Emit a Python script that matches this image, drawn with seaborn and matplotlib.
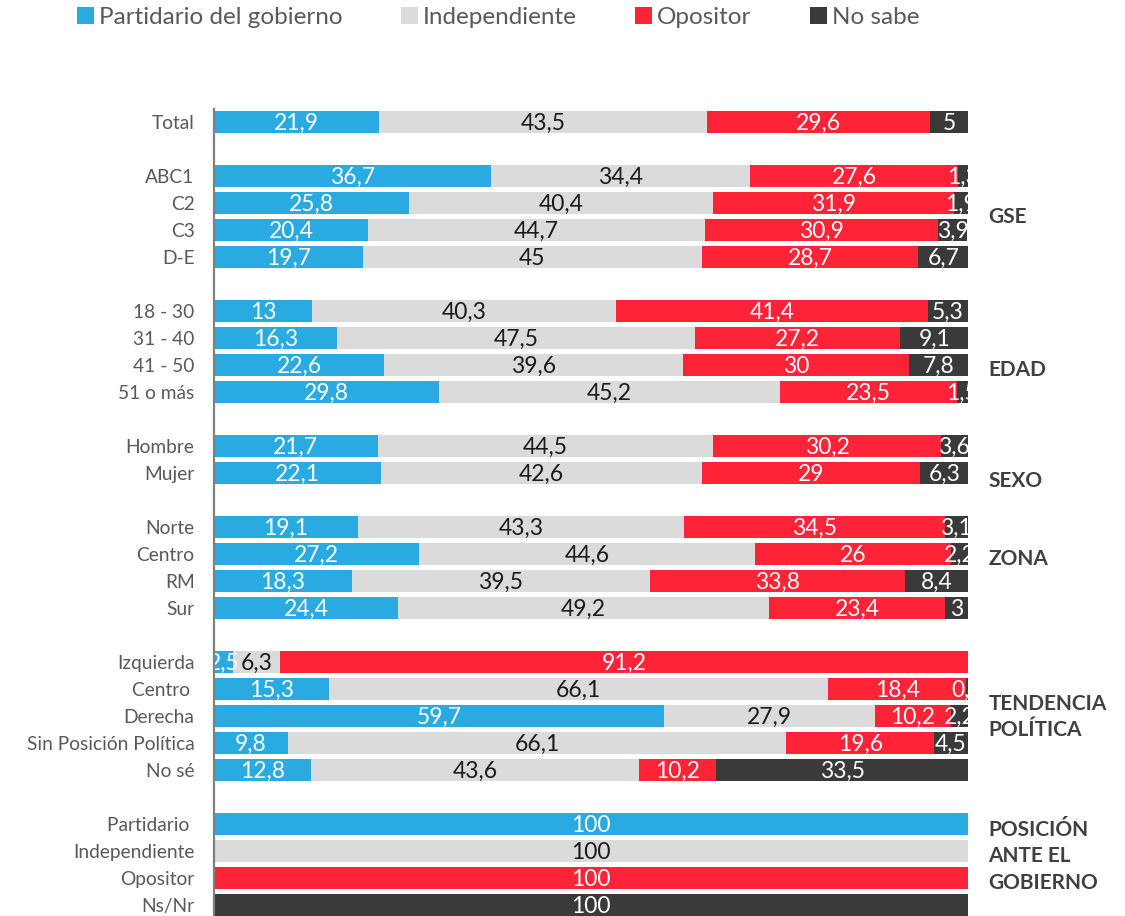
import matplotlib
matplotlib.use("Agg")
import matplotlib.pyplot as plt
import matplotlib.transforms as mtransforms
from matplotlib.patches import Patch
import numpy as np
import pandas as pd
import seaborn as sns

# ---- data -------------------------------------------------------------
series_names = ["Partidario del gobierno", "Independiente", "Opositor", "No sabe"]

group_rows = [
    ["Total"],
    ["ABC1", "C2", "C3", "D-E"],
    ["18 - 30", "31 - 40", "41 - 50", "51 o más"],
    ["Hombre", "Mujer"],
    ["Norte", "Centro", "RM", "Sur"],
    ["Izquierda", "Centro ", "Derecha", "Sin Posición Política", "No sé"],
    ["Partidario ", "Independiente", "Opositor", "Ns/Nr"],
]
group_titles = ["", "GSE", "EDAD", "SEXO", "ZONA", "TENDENCIA\nPOLÍTICA",
                "POSICIÓN\nANTE EL\nGOBIERNO"]

partidario = [21.9,
              36.7, 25.8, 20.4, 19.7,
              13, 16.3, 22.6, 29.8,
              21.7, 22.1,
              19.1, 27.2, 18.3, 24.4,
              2.5, 15.3, 59.7, 9.8, 12.8,
              100, 0, 0, 0]
independiente = [43.5,
                 34.4, 40.4, 44.7, 45,
                 40.3, 47.5, 39.6, 45.2,
                 44.5, 42.6,
                 43.3, 44.6, 39.5, 49.2,
                 6.3, 66.1, 27.9, 66.1, 43.6,
                 0, 100, 0, 0]
opositor = [29.6,
            27.6, 31.9, 30.9, 28.7,
            41.4, 27.2, 30, 23.5,
            30.2, 29,
            34.5, 26, 33.8, 23.4,
            91.2, 18.4, 10.2, 19.6, 10.2,
            0, 0, 100, 0]
no_sabe = [5,
           1.3, 1.9, 3.9, 6.7,
           5.3, 9.1, 7.8, 1.5,
           3.6, 6.3,
           3.1, 2.2, 8.4, 3,
           0, 0.2, 2.2, 4.5, 33.5,
           0, 0, 0, 100]

# ---- layout helpers ---------------------------------------------------
labels, positions = [], []
slot = 0
for rows in group_rows:
    for r in rows:
        labels.append(r)
        positions.append(slot)
        slot += 1
    slot += 1  # blank slot between groups

title_y = [None, 3.52, 9.19, 13.3, 16.19, 22.04, 27.19]

colors = ["#29ABE2", "#DBDBDB", "#FF2337", "#3A3A3A"]
text_colors = ["white", "#1A1A1A", "white", "white"]

values = np.array([partidario, independiente, opositor, no_sabe])

# ---- figure -----------------------------------------------------------
sns.set_theme(style="white")
plt.rcParams["font.family"] = ["Lato", "DejaVu Sans"]

W, H = 1125, 916
fig = plt.figure(figsize=(W / 100, H / 100), dpi=100)
ax_left, ax_right, ax_top = 214, 968, 108.5
ax = fig.add_axes([ax_left / W, 0, (ax_right - ax_left) / W, 1 - ax_top / H])

# stacked bars: draw cumulative totals from back to front
cum = np.cumsum(values, axis=0)
for k in range(3, -1, -1):
    df = pd.DataFrame({"pos": positions, "val": cum[k]})
    sns.barplot(data=df, x="val", y="pos", orient="y", native_scale=True,
                color=colors[k], saturation=1, width=0.83, errorbar=None,
                linewidth=0, ax=ax)

ax.set_xlim(0, 100)
slot_px = 27.0
ax.set_ylim(-0.5 + (H - ax_top) / slot_px, -0.5)

# value labels centred in each segment
lefts = np.vstack([np.zeros(values.shape[1]), cum[:-1]])
for k in range(4):
    for i, p in enumerate(positions):
        v = values[k, i]
        if v <= 0:
            continue
        txt = f"{v:g}".replace(".", ",")
        ax.text(lefts[k, i] + v / 2, p + 0.04, txt, ha="center", va="center",
                fontsize=16.5, color=text_colors[k], clip_on=True, zorder=4)

# axes styling
for s in ["top", "right", "bottom"]:
    ax.spines[s].set_visible(False)
ax.spines["left"].set_color("#7F7F7F")
ax.spines["left"].set_linewidth(1.6)
ax.spines["left"].set_zorder(6)
ax.set_yticks(positions)
ax.set_yticklabels(labels, fontsize=13.8, color="#595959")
ax.tick_params(axis="y", left=False, length=0, pad=14)
ax.set_xticks([])
ax.set_xlabel("")
ax.set_ylabel("")

# group titles on the right
trans = mtransforms.blended_transform_factory(ax.transAxes, ax.transData)
for t, y in zip(group_titles, title_y):
    if not t:
        continue
    ax.text(1.027, y, t, transform=trans, ha="left", va="center",
            fontsize=15, fontweight="bold", color="#404040",
            linespacing=1.4, clip_on=False)

# legend
handles = [Patch(facecolor=c, edgecolor="none") for c in colors]
fig.legend(handles, series_names, loc="upper center",
           bbox_to_anchor=(0.443, 1.016), ncol=4, frameon=False,
           fontsize=17.5, labelcolor="#595959", handlelength=0.7,
           handleheight=0.7, handletextpad=0.2, columnspacing=2.4)

fig.savefig("out.png", dpi=100)
